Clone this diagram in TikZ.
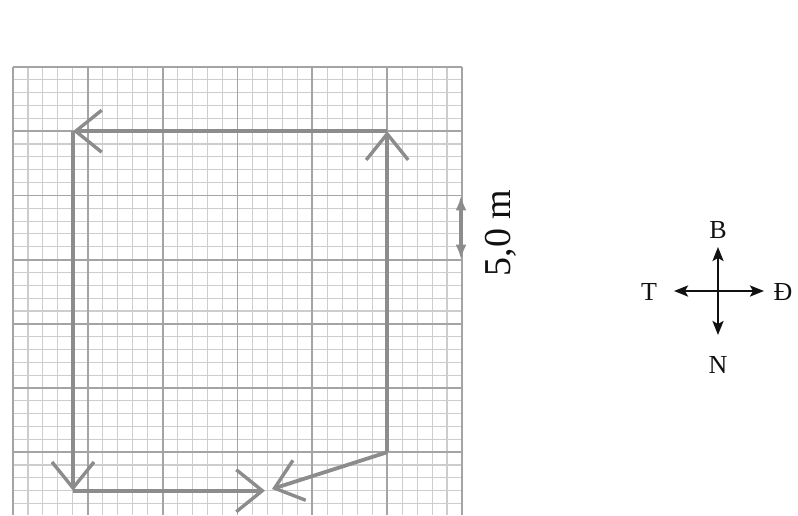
\documentclass[tikz,border=0pt]{standalone}
\usepackage{fontspec}
\setmainfont{Liberation Serif}
\usetikzlibrary{arrows.meta}
\definecolor{gridminor}{HTML}{CDCDCD}
\definecolor{gridmajor}{HTML}{A4A4A4}
\definecolor{pathgray}{HTML}{8C8C8C}
\definecolor{ink}{HTML}{111111}
\tikzset{
  minorline/.style={draw=gridminor,line width=1.1pt},
  majorline/.style={draw=gridmajor,line width=1.8pt},
  walk/.style={-{Straight Barb[length=26pt,width=42pt,line width=3.4pt]},draw=pathgray,line width=3.8pt},
  scalebar/.style={{Latex[length=15pt,width=11pt]}-{Latex[length=15pt,width=11pt]},draw=pathgray,line width=3.2pt},
  compass/.style={-{Stealth[length=14pt,width=11pt,inset=3pt]},draw=ink,line width=2.4pt},
  dirlabel/.style={font=\fontsize{26}{28}\selectfont,text=ink,inner sep=0pt},
}
\begin{document}
\begin{tikzpicture}[x=1pt,y=-1pt]
\useasboundingbox (0,0) rectangle (798,515);
% grid paper
\foreach \i in {0,...,30} \draw[minorline] ({13+\i*449/30},67) -- ({13+\i*449/30},515);
\foreach \j in {0,...,34} \draw[minorline] (13,{67+\j*12.84}) -- (462,{67+\j*12.84});
\foreach \i in {0,...,6} \draw[majorline] ({13+\i*449/6},67) -- ({13+\i*449/6},515);
\foreach \j in {0,...,6} \draw[majorline] (13,{67+\j*64.2}) -- (462,{67+\j*64.2});
% corners of the walk
\coordinate (start) at (387.2,452.2);
\coordinate (ne) at (387.2,131.2);
\coordinate (nw) at (73,131.2);
\coordinate (sw) at (73,490.7);
\coordinate (finish) at (265,490.7);
\coordinate (finishd) at (272,489);
\draw[walk] (start) -- (ne);
\draw[walk] (ne) -- (nw);
\draw[walk] (nw) -- (sw);
\draw[walk] (sw) -- (finish);
\draw[walk] (start) -- (finishd);
% scale
\coordinate (sctop) at (461,195.4);
\coordinate (scbot) at (461,259.6);
\draw[scalebar] (sctop) -- (scbot);
\node[rotate=90,font=\fontsize{38}{40}\selectfont,text=ink,inner sep=0pt] (scale) at (501,233) {5,0 m};
% compass
\coordinate (c) at (718,291);
\node[dirlabel] (north) at (718,230) {B};
\node[dirlabel] (south) at (718,365) {N};
\node[dirlabel] (west) at (649,292) {T};
\node[dirlabel] (east) at (783,292) {Đ};
\coordinate (ntip) at (718,247);
\coordinate (stip) at (718,335);
\coordinate (wtip) at (674,291);
\coordinate (etip) at (764,291);
\draw[compass] (c) -- (ntip);
\draw[compass] (c) -- (stip);
\draw[compass] (c) -- (wtip);
\draw[compass] (c) -- (etip);
\end{tikzpicture}
\end{document}
